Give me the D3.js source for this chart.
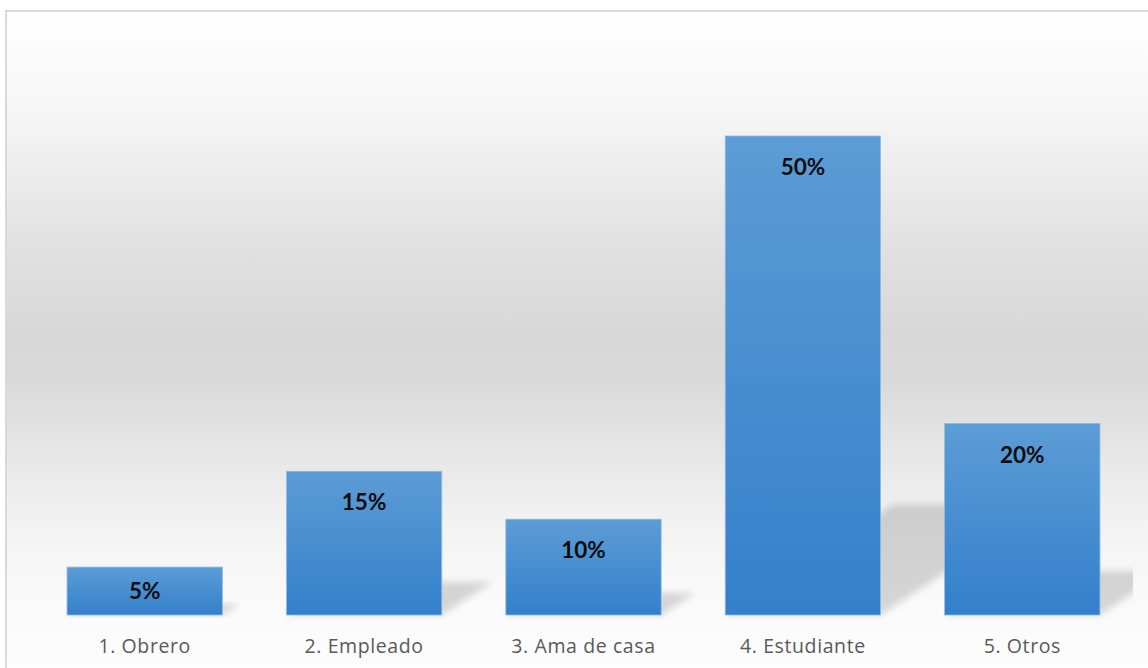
<!DOCTYPE html>
<html>
<head>
<meta charset="utf-8">
<script src="https://cdn.jsdelivr.net/npm/d3@7"></script>
<style>
  html, body { margin: 0; padding: 0; background: #ffffff; }
  svg { display: block; }
</style>
</head>
<body>
<svg id="chart" width="1148" height="668"></svg>
<script>
// Ocupación de los encuestados (porcentaje)
const categories = ["1. Obrero", "2. Empleado", "3. Ama de casa", "4. Estudiante", "5. Otros"];
const values = [0.05, 0.15, 0.10, 0.50, 0.20];
const valueLabels = ["5%", "15%", "10%", "50%", "20%"];

const W = 1148, H = 668;
const svg = d3.select("#chart");
const defs = svg.append("defs");

// Vertical grey band behind the plot
const bg = defs.append("linearGradient")
  .attr("id", "bgGrad").attr("gradientUnits", "userSpaceOnUse")
  .attr("x1", 0).attr("y1", 10).attr("x2", 0).attr("y2", H);
[[0, "#ffffff"], [0.14, "#f7f7f7"], [0.25, "#ececec"], [0.37, "#e0e0e0"],
 [0.49, "#d8d8d8"], [0.56, "#d9d9d9"], [0.67, "#e6e6e6"], [0.79, "#f3f3f3"],
 [0.9, "#fafafa"], [1, "#fdfdfd"]]
  .forEach(([o, c]) => bg.append("stop").attr("offset", o).attr("stop-color", c));

// Bar fill: lighter blue at the top, deeper blue at the bottom
const barGrad = defs.append("linearGradient")
  .attr("id", "barGrad").attr("x1", 0).attr("y1", 0).attr("x2", 0).attr("y2", 1);
barGrad.append("stop").attr("offset", 0).attr("stop-color", "#5c9cd6");
barGrad.append("stop").attr("offset", 1).attr("stop-color", "#3380ca");

const blur = defs.append("filter").attr("id", "shadowBlur")
  .attr("x", "-20%").attr("y", "-20%").attr("width", "140%").attr("height", "140%");
blur.append("feGaussianBlur").attr("stdDeviation", 3.5);

defs.append("clipPath").attr("id", "plotClip")
  .append("rect").attr("x", 7).attr("y", 12).attr("width", 1126).attr("height", H - 12);

// Chart area with its light frame
svg.append("rect")
  .attr("x", 6).attr("y", 11).attr("width", W + 10).attr("height", H + 10)
  .attr("fill", "url(#bgGrad)")
  .attr("stroke", "#d9d9d9").attr("stroke-width", 2);

const x = d3.scaleBand()
  .domain(categories)
  .range([35, 1132])
  .paddingInner(0.292)
  .paddingOuter(0.146);

const y = d3.scaleLinear().domain([0, 0.5]).range([615, 136]);

const data = categories.map((c, i) => ({ cat: c, v: values[i], label: valueLabels[i] }));

// Perspective shadows cast up and to the right of each bar
const sx = 0.35, sy = 0.23;
const base = y(0);
svg.append("g").attr("clip-path", "url(#plotClip)")
  .selectAll("path").data(data).join("path")
  .attr("d", d => {
    const h = base - y(d.v);
    const l = x(d.cat), r = x(d.cat) + x.bandwidth();
    return `M${l},${base} L${r},${base} L${r + h * sx},${base - h * sy} L${l + h * sx},${base - h * sy} Z`;
  })
  .attr("fill", "#000").attr("fill-opacity", 0.15)
  .attr("filter", "url(#shadowBlur)");

// Bars
svg.append("g").selectAll("rect").data(data).join("rect")
  .attr("x", d => x(d.cat))
  .attr("y", d => y(d.v))
  .attr("width", x.bandwidth())
  .attr("height", d => base - y(d.v))
  .attr("fill", "url(#barGrad)")
  .attr("stroke", "#8dbbe6").attr("stroke-width", 0.8);

// Value labels inside the bars
svg.append("g").selectAll("text").data(data).join("text")
  .attr("x", d => x(d.cat) + x.bandwidth() / 2)
  .attr("y", d => {
    const top = y(d.v), h = base - top;
    return h < 62 ? top + h / 2 : top + 31;
  })
  .attr("dy", "0.36em")
  .attr("text-anchor", "middle")
  .attr("font-family", "Lato, 'Open Sans', sans-serif")
  .attr("font-weight", 700)
  .attr("font-size", 22.5)
  .attr("fill", "#0d0d0d")
  .text(d => d.label);

// Category axis
const axis = svg.append("g")
  .attr("transform", `translate(0,${base})`)
  .call(d3.axisBottom(x).tickSize(0).tickPadding(24));
axis.select(".domain").remove();
axis.selectAll("text")
  .attr("font-family", "'Open Sans', Lato, sans-serif")
  .attr("font-size", 19.5)
  .attr("letter-spacing", 0.6)
  .attr("fill", "#595959");
</script>
</body>
</html>
